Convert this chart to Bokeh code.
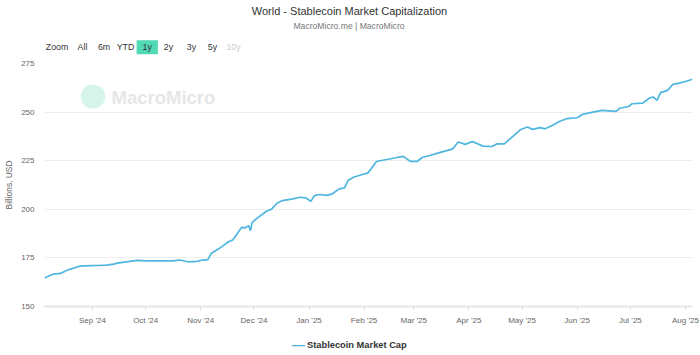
import pandas as pd
from bokeh.plotting import figure
from bokeh.layouts import column
from bokeh.models import Range1d, FixedTicker, DatetimeTickFormatter, MonthsTicker, Label, ColumnDataSource
from bokeh.embed import file_html
from bokeh.resources import INLINE

# ---- data ----
dates = ["2024-08-05", "2024-08-10", "2024-08-14", "2024-08-18", "2024-08-21", "2024-08-25",
         "2024-08-31", "2024-09-04", "2024-09-09", "2024-09-13", "2024-09-15", "2024-09-20",
         "2024-09-26", "2024-10-01", "2024-10-09", "2024-10-16", "2024-10-20", "2024-10-25",
         "2024-10-30", "2024-11-02", "2024-11-05", "2024-11-07", "2024-11-10", "2024-11-13",
         "2024-11-16", "2024-11-19", "2024-11-22", "2024-11-24", "2024-11-26", "2024-11-28",
         "2024-11-29", "2024-11-30", "2024-12-03", "2024-12-08", "2024-12-11", "2024-12-14",
         "2024-12-17", "2024-12-23", "2024-12-27", "2024-12-30", "2025-01-02", "2025-01-04",
         "2025-01-07", "2025-01-11", "2025-01-14", "2025-01-18", "2025-01-21", "2025-01-23",
         "2025-01-26", "2025-01-31", "2025-02-03", "2025-02-05", "2025-02-08", "2025-02-13",
         "2025-02-19", "2025-02-23", "2025-02-27", "2025-03-03", "2025-03-06", "2025-03-10",
         "2025-03-16", "2025-03-23", "2025-03-26", "2025-03-30", "2025-04-03", "2025-04-09",
         "2025-04-14", "2025-04-17", "2025-04-21", "2025-04-30", "2025-05-04", "2025-05-07",
         "2025-05-11", "2025-05-14", "2025-05-18", "2025-05-22", "2025-05-26", "2025-06-01",
         "2025-06-04", "2025-06-10", "2025-06-15", "2025-06-23", "2025-06-25", "2025-06-30",
         "2025-07-02", "2025-07-08", "2025-07-12", "2025-07-14", "2025-07-16", "2025-07-18",
         "2025-07-22", "2025-07-25", "2025-07-29", "2025-08-02", "2025-08-05"]
market_cap = [164.7, 166.7, 167.0, 168.8, 169.6, 170.8,
              171.0, 171.1, 171.3, 171.8, 172.3, 173.0,
              173.7, 173.5, 173.5, 173.5, 173.9, 173.0,
              173.2, 173.9, 174.1, 177.4, 179.1, 180.8,
              183.0, 184.2, 188.1, 190.7, 190.4, 191.6,
              189.0, 193.3, 195.6, 199.0, 200.2, 203.1,
              204.5, 205.4, 206.2, 205.9, 204.1, 207.0,
              207.6, 207.2, 207.9, 210.5, 211.0, 214.8,
              216.5, 217.9, 218.6, 220.8, 224.6, 225.5,
              226.5, 227.2, 224.7, 224.7, 226.8, 227.7,
              229.3, 231.1, 234.6, 233.4, 234.9, 232.5,
              232.3, 233.7, 233.7, 240.9, 242.3, 241.1,
              242.0, 241.4, 243.1, 245.2, 246.6, 247.1,
              248.8, 250.0, 250.9, 250.4, 252.0, 252.9,
              254.3, 254.6, 257.4, 257.7, 256.0, 260.0,
              261.2, 264.3, 265.0, 266.0, 266.9]
y_ticks = [150, 175, 200, 225, 250, 275]
x_start, x_end = "2024-08-05", "2025-08-05"
title_text = "World - Stablecoin Market Capitalization"
subtitle_text = "MacroMicro.me | MacroMicro"
series_name = "Stablecoin Market Cap"
range_buttons = ["Zoom", "All", "6m", "YTD", "1y", "2y", "3y", "5y", "10y"]

FONT = "Liberation Sans"
LINE = "#4fb6df"
W = 700
HEAD_H = 55            # header strip: page y 0..55
MAIN_TOP, MAIN_BOT = 55, 333   # main chart strip
FOOT_H = 355 - MAIN_BOT        # legend strip
FL, FR, FT, FB = 44, 692, 63, 306   # plot frame edges on the page


def strip(height):
    f = figure(width=W, height=height, output_backend="svg", toolbar_location=None,
               x_axis_location=None, y_axis_location=None,
               min_border=0, x_range=Range1d(0, 1), y_range=Range1d(0, 1))
    f.grid.visible = False
    f.outline_line_color = None
    f.background_fill_color = "white"
    f.border_fill_color = "white"
    return f


def put(fig, top, height, text, px, py, size, color, align="center", style="normal", **kw):
    # px, py: page position; the strips' frames are aligned with the main frame (left = FL)
    fig.add_layout(Label(x=px - FL, y=(top + height) - py,
                         x_units="screen", y_units="screen", text=text,
                         text_font=FONT, text_font_size=size, text_color=color,
                         text_font_style=style, text_align=align, text_baseline="middle", **kw))


# ---------------- header ----------------
head = strip(HEAD_H)
put(head, 0, HEAD_H, title_text, 349, 10.5, "11px", "#333333")
put(head, 0, HEAD_H, subtitle_text, 348.5, 25.5, "8.6px", "#777777")
btn_x = [56.5, 82, 103.5, 125, 146.75, 168, 191, 212, 233]
for lbl, bx in zip(range_buttons, btn_x):
    col = "#cccccc" if lbl == "10y" else "#333333"
    extra = {}
    if lbl == "1y":
        extra = dict(background_fill_color="#52d9b6",
                     padding=dict(left=6, right=6, top=2, bottom=2))
    put(head, 0, HEAD_H, lbl, bx, 46.7, "8.8px", col, **extra)

# ---------------- main chart ----------------
src = ColumnDataSource(dict(date=pd.to_datetime(dates), value=market_cap))
main_h = MAIN_BOT - MAIN_TOP
p = figure(width=W, height=main_h, output_backend="svg", toolbar_location=None,
           x_axis_type="datetime",
           x_range=Range1d(pd.Timestamp(x_start), pd.Timestamp(x_end)),
           y_range=Range1d(150, 275),
           min_border_left=FL, min_border_right=W - FR,
           min_border_top=FT - MAIN_TOP, min_border_bottom=MAIN_BOT - FB)
p.outline_line_color = None
p.background_fill_color = "white"
p.border_fill_color = "white"

p.line("date", "value", source=src, line_color=LINE, line_width=1.7)

p.xaxis.ticker = MonthsTicker(months=list(range(12)))
p.xaxis.formatter = DatetimeTickFormatter(months="%b '%y", days="%b '%y")
p.xaxis.axis_line_color = "#e6e6e6"
p.xaxis.axis_line_width = 2
p.xaxis.major_tick_line_color = "#e0e0e0"
p.xaxis.major_tick_out = 4
p.xaxis.major_tick_in = 0
p.xaxis.minor_tick_line_color = None
p.xaxis.minor_tick_out = 0
p.xaxis.major_label_text_font = FONT
p.xaxis.major_label_text_font_size = "8px"
p.xaxis.major_label_text_color = "#666666"
p.xaxis.major_label_standoff = 5

p.yaxis.ticker = FixedTicker(ticks=y_ticks)
p.yaxis.axis_line_color = None
p.yaxis.major_tick_line_color = None
p.yaxis.major_tick_out = 0
p.yaxis.major_tick_in = 0
p.yaxis.minor_tick_line_color = None
p.yaxis.minor_tick_out = 0
p.yaxis.major_label_text_font = FONT
p.yaxis.major_label_text_font_size = "8px"
p.yaxis.major_label_text_color = "#666666"
p.yaxis.major_label_standoff = 10
p.yaxis.axis_label = "Billions, USD"
p.yaxis.axis_label_text_font = FONT
p.yaxis.axis_label_text_font_size = "8.4px"
p.yaxis.axis_label_text_font_style = "normal"
p.yaxis.axis_label_text_color = "#666666"
p.yaxis.axis_label_standoff = 4

p.xgrid.grid_line_color = None
p.ygrid.ticker = FixedTicker(ticks=y_ticks)
p.ygrid.grid_line_color = "#ededed"
p.ygrid.grid_line_width = 1

# watermark (inside the plot frame; frame-relative screen units)
p.add_layout(Label(x=92.5 - FL, y=FB - 96, x_units="screen", y_units="screen", text=" ",
                   text_font=FONT, text_font_size="2px", text_color="#ffffff",
                   text_align="center", text_baseline="middle",
                   background_fill_color="#d6f4ea",
                   padding=dict(left=12, right=12, top=11, bottom=11), border_radius=12))
p.add_layout(Label(x=111 - FL, y=FB - 97, x_units="screen", y_units="screen", text="MacroMicro",
                   text_font=FONT, text_font_size="18.5px", text_font_style="bold",
                   text_color="#e6e6e6", text_align="left", text_baseline="middle"))

# ---------------- legend strip ----------------
foot = strip(FOOT_H)
put(foot, MAIN_BOT, FOOT_H, "\u2014", 297.8, 344.3, "13px", LINE, style="bold")
put(foot, MAIN_BOT, FOOT_H, series_name, 306.5, 344.5, "9.3px", "#333333", align="left", style="bold")

layout = column(head, p, foot, spacing=0)
open("out.html", "w").write(file_html(layout, INLINE))
